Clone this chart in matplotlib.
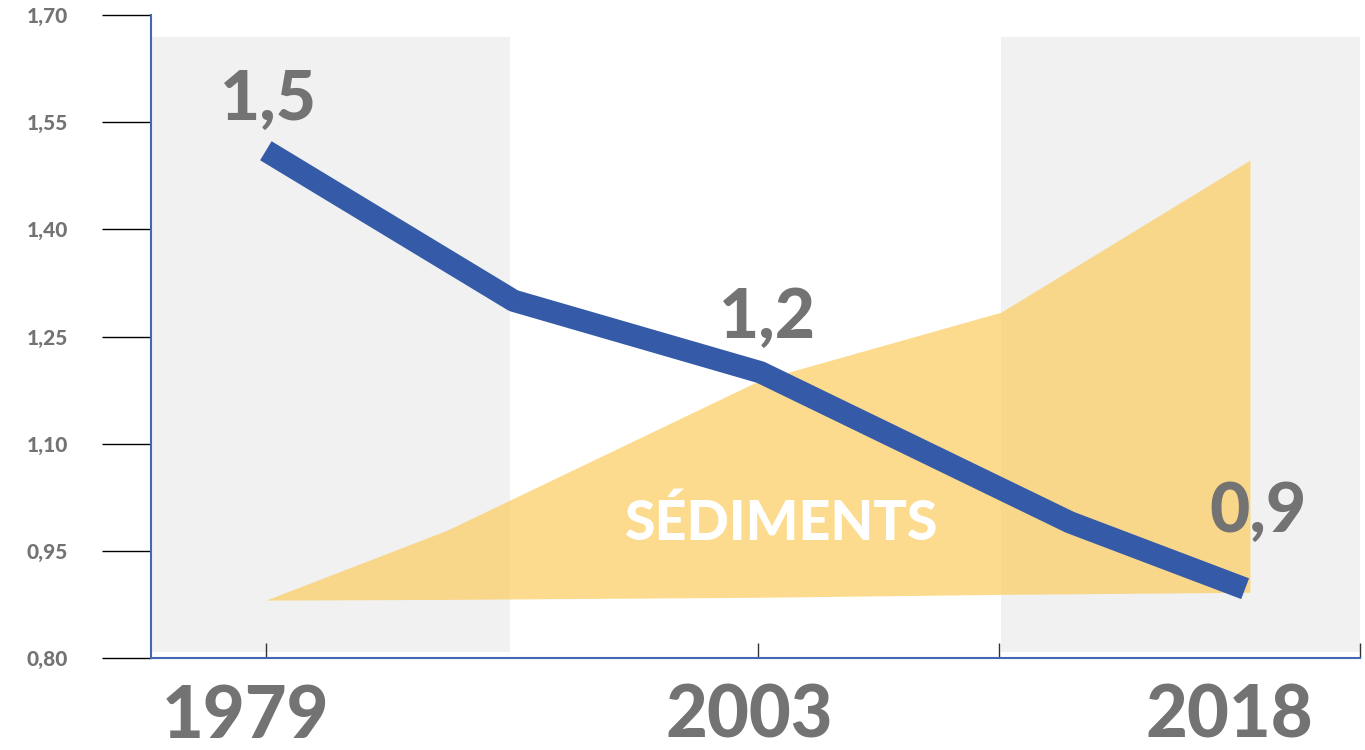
import matplotlib
matplotlib.use("Agg")
import matplotlib.pyplot as plt

# x runs on a 0-100 scale across the plot area
line_x = [9.5, 30.0, 50.4, 76.0, 90.5]
line_y = [1.51, 1.30, 1.20, 0.99, 0.897]

area_x = [9.5, 24.5, 50.4, 70.3, 90.9]
area_top = [0.881, 0.979, 1.189, 1.284, 1.497]
area_bottom = [0.881, 0.882, 0.885, 0.889, 0.892]

value_labels = ["1,5", "1,2", "0,9"]
value_x = [9.7, 51.0, 91.6]
value_y = [1.581, 1.276, 1.004]

year_labels = ["1979", "2003", "2018"]
year_x = [7.8, 49.5, 89.2]

yticks = [0.80, 0.95, 1.10, 1.25, 1.40, 1.55, 1.70]
xticks = [9.5, 50.2, 70.1, 100]

# shaded bands: (start, end) on x
bands = [(0, 29.7), (70.3, 100)]

gray_txt = "#737373"
blue = "#355BA8"
font = "Lato"

fig = plt.figure(figsize=(13.65, 7.5), dpi=100)
ax = fig.add_axes([151 / 1365, 92 / 750, 1209 / 1365, 643 / 750])

for x0, x1 in bands:
    ax.fill_between([x0, x1], 0.808, 1.669, color="#F1F1F1", lw=0, zorder=0)

ax.fill_between(area_x, area_bottom, area_top, color="#FCCD5E", alpha=0.7, lw=0, zorder=1)
ax.text(52.2, 0.989, "SÉDIMENTS", color="white", fontsize=40, fontweight="black",
        family=font, ha="center", va="center", zorder=3)

ax.plot(line_x, line_y, color=blue, lw=16, solid_capstyle="butt",
        solid_joinstyle="round", zorder=2)

for lab, x, y in zip(value_labels, value_x, value_y):
    ax.text(x, y, lab, color=gray_txt, fontsize=50, fontweight="black",
            family=font, ha="center", va="center", zorder=4)

for lab, x in zip(year_labels, year_x):
    ax.text(x, -0.092, lab, color=gray_txt, fontsize=52, fontweight="black",
            family=font, ha="center", va="center",
            transform=ax.get_xaxis_transform(), clip_on=False)

ax.set_xlim(0, 100)
ax.set_ylim(0.80, 1.70)

ax.set_yticks(yticks)
ax.set_yticklabels([f"{v:.2f}".replace(".", ",") for v in yticks],
                   fontsize=15, fontweight="black", color=gray_txt, family=font)
ax.tick_params(axis="y", length=35, width=1, color="black", pad=25)

ax.set_xticks(xticks)
ax.set_xticklabels([])
ax.tick_params(axis="x", direction="in", length=11, width=1, color="#333333")

for s in ["top", "right"]:
    ax.spines[s].set_visible(False)
for s in ["left", "bottom"]:
    ax.spines[s].set_color("#4466B3")
    ax.spines[s].set_linewidth(1.5)

fig.savefig("out.png", dpi=100)
